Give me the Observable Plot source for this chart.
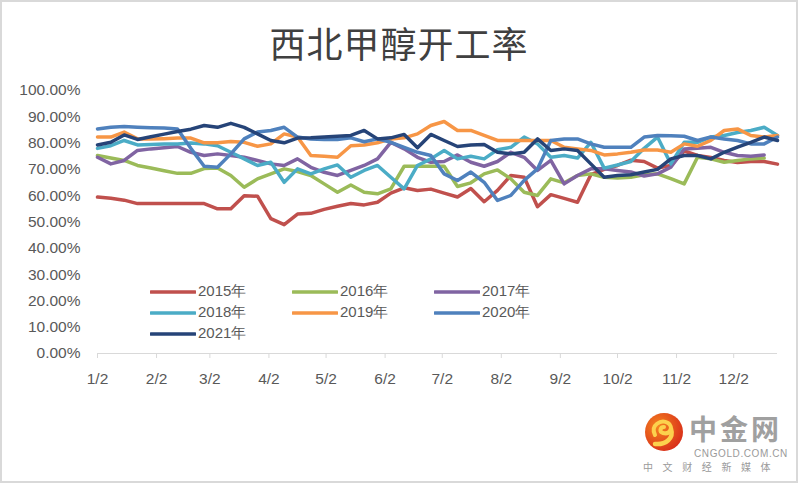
<!DOCTYPE html>
<html>
<head>
<meta charset="utf-8">
<script src="https://cdn.jsdelivr.net/npm/d3@7"></script>
<script src="https://cdn.jsdelivr.net/npm/@observablehq/plot@0.6"></script>
<style>
  html, body { margin: 0; padding: 0; background: #fff; }
  #wrap { position: relative; width: 798px; height: 483px; overflow: hidden; background: #fff; font-family: "Liberation Sans", Arial, sans-serif; }
  #title { height: 80px; text-align: center; font-family: "Noto Sans CJK SC", sans-serif; font-size: 36px; line-height: 84px; color: #404040; letter-spacing: 1px; }
  #legend { position: absolute; left: 150px; top: 281px; display: grid; grid-template-columns: 142px 142px 142px; grid-auto-rows: 21px; font-size: 15px; color: #595959; }
  #legend .item { display: flex; align-items: center; white-space: nowrap; }
  #legend svg { margin-right: 2px; }
  #border { position: absolute; inset: 0; border: 2px solid #d9d9d9; pointer-events: none; }
  .wm { position: absolute; color: #9a9a9a; white-space: nowrap; }
</style>
</head>
<body>
<div id="wrap">
  <div id="title">西北甲醇开工率</div>
  <div id="chart"></div>
  <div id="legend"></div>
  <svg class="wm" style="left:644px;top:412px" width="40" height="40" viewBox="-20 -20 40 40">
    <defs>
      <radialGradient id="lg" cx="35%" cy="35%" r="70%">
        <stop offset="0" stop-color="#f5841f"/>
        <stop offset="1" stop-color="#d9301a"/>
      </radialGradient>
    </defs>
    <circle r="19" fill="url(#lg)"/>
    <path d="M-9 3 C-14 -7 -3 -13 4 -9 C10 -5 6 3 -1 1 C-5 0 -4 -5 0 -5" fill="none" stroke="#fcd14d" stroke-width="4" stroke-linecap="round"/>
    <path d="M7 -3 C10 6 2 13 -9 12" fill="none" stroke="#fcd14d" stroke-width="4.5" stroke-linecap="round"/>
  </svg>
  <div class="wm" style="left:689px;top:414px;font-family:'Noto Sans CJK SC',sans-serif;font-weight:700;font-size:28px;line-height:28px;letter-spacing:3px;color:#a0a0a0;">中金网</div>
  <div class="wm" style="left:694px;top:449px;font-size:10px;letter-spacing:0.6px;line-height:10px;">CNGOLD.COM.CN</div>
  <div class="wm" style="left:643px;top:461px;font-family:'Noto Sans CJK SC',sans-serif;font-size:10px;letter-spacing:9.6px;line-height:12px;">中文财经新媒体</div>
  <div id="border"></div>
</div>
<script>
// weekly dates (month-day), shared across years
const weeks = ["01-02","01-09","01-16","01-23","01-30","02-06","02-13","02-20","02-27","03-06","03-13","03-20","03-27","04-03","04-10","04-17","04-24","05-01","05-08","05-15","05-22","05-29","06-05","06-12","06-19","06-26","07-03","07-10","07-17","07-24","07-31","08-07","08-14","08-21","08-28","09-04","09-11","09-18","09-25","10-02","10-09","10-16","10-23","10-30","11-06","11-13","11-20","11-27","12-04","12-11","12-18","12-25"];

const years = ["2015年","2016年","2017年","2018年","2019年","2020年","2021年"];
const colors = ["#C0504D","#9BBB59","#8064A2","#4BACC6","#F79646","#4F81BD","#264478"];

// operating rate (%) per week
const y2015 = [59.5,59,58.3,57,57,57,57,57,57,55,55,60,59.8,51.3,49,53,53.3,54.8,56,57,56.5,57.5,61,63,62,62.5,61,59.5,62.7,57.7,62,67.7,67,55.8,60.4,59,57.5,68,70,71.5,73.5,73,70.5,71.5,77,75.3,74.5,73.4,72.6,73,73,72];
const y2016 = [75.3,74.3,73.4,71.5,70.5,69.5,68.5,68.5,70.3,70.5,67.7,63.2,66.4,68.3,70.2,69.2,67.7,64.5,61.3,64.1,61.3,60.7,62.6,71.2,71.2,71.2,71.2,63.5,64.9,68.3,69.8,66.4,61.3,60.1,66.4,64.9,67.7,68.3,67,66.7,67,68,68.3,66.5,64.5,74.6,74,72.7,73.4,74,74.3];
const y2017 = [74.6,72.1,73.4,77.2,77.8,78.2,78.7,76.5,75.3,75.9,75.3,74.6,73.4,72.1,71.5,74,70.8,68.9,67.7,69.6,71.5,74,80.3,77.8,74.6,72.7,73,75.5,72.7,71.2,73,76.5,74.6,69.6,73.4,64.5,67.7,70.2,70.2,69.6,69,67.5,68.3,70.8,77.8,78,78.4,76.5,75.3,75,75.5];
const y2018 = [78,79,81,79.3,79.5,79.7,79.7,80,79.7,79,76.5,74,71.5,72.7,65.1,70.2,68.3,70.2,71.7,67,69.6,71.5,67,62.6,71.5,74,77.2,74,75,74,77.5,78.4,82.3,79.7,74.6,75.3,74.3,80.3,70.5,71.7,73,78,82.3,72.1,80.3,80.3,82.3,82.9,84,84.8,86,82.9];
const y2019 = [82.3,82.3,84.2,81.6,81.6,81.7,81.9,81.9,80.1,80.1,80.6,80.3,78.8,79.7,83.5,82.3,75.3,75,74.6,79,79.3,80.1,81.6,82,83.5,86.7,88.2,84.8,84.8,82.9,81,81,81,81,81,78.4,77.8,77.2,75.5,75.9,76.5,77.4,77.4,76.5,79.7,78.8,81,84.8,85.4,82.9,82.3,82.9];
const y2020 = [85.4,86,86.3,86,85.8,85.7,85.4,78,71.2,70.8,75.9,81.6,84.2,84.8,86,82.3,81.6,81.4,81.4,82,80.5,81.6,80.3,78.4,76.5,75.3,68.3,65.8,69,65.1,58.2,60.1,65.8,70.2,81,81.6,81.6,79.7,78.4,78.4,78.4,82.3,82.9,82.8,82.6,81,82.3,81.6,81,79.7,79.7,82.3];
const y2021 = [79.3,80.3,83.1,81.4,82.4,83.4,84.4,85.3,86.7,86,87.5,86,83.5,81,80.1,81.9,82,82.3,82.6,82.9,84.8,81.6,82,83.3,78.2,83.3,81,78.7,79.3,79.5,76.5,75.9,76.5,81.6,77.2,77.8,77.2,72.1,67,67.7,68,69,70,74,75.3,75.3,74,76.5,78.5,80.3,82.3,81];

const xTickDates = ["01-02","02-02","03-02","04-02","05-02","06-02","07-02","08-02","09-02","10-02","11-02","12-02"];
const yTicks = [0,0.1,0.2,0.3,0.4,0.5,0.6,0.7,0.8,0.9,1];

const series = [y2015,y2016,y2017,y2018,y2019,y2020,y2021];
const toDate = md => new Date("2021-" + md + "T00:00:00Z");
const data = [];
series.forEach((vals, k) => vals.forEach((v, i) => data.push({date: toDate(weeks[i]), value: v / 100, year: years[k]})));

const fmtX = d => `${d.getUTCMonth() + 1}/${d.getUTCDate()}`;

const chart = Plot.plot({
  width: 798,
  height: 403,
  marginLeft: 97,
  marginRight: 21,
  marginTop: 10,
  marginBottom: 130,
  style: {fontFamily: "'Liberation Sans', Arial, sans-serif", fontSize: "15.5px", color: "#595959", background: "transparent", overflow: "visible"},
  x: {type: "utc", domain: [toDate(weeks[0]), toDate(weeks[weeks.length - 1])]},
  y: {domain: [0, 1]},
  color: {domain: years, range: colors},
  marks: [
    Plot.ruleY([0], {stroke: "#d9d9d9", strokeWidth: 1}),
    Plot.axisY({ticks: yTicks, tickFormat: d3.format(".2%"), tickSize: 0, tickPadding: 17, label: null, fill: "#595959"}),
    Plot.axisX({ticks: xTickDates.map(toDate), tickFormat: fmtX, tickSize: 5, tickPadding: 14, label: null, stroke: "#d9d9d9", fill: "#595959"}),
    Plot.line(data, {x: "date", y: "value", z: "year", stroke: "year", strokeWidth: 3.5, strokeLinejoin: "round", strokeLinecap: "round"})
  ]
});
document.getElementById("chart").appendChild(chart);

// legend
const legend = document.getElementById("legend");
years.forEach((yr, k) => {
  const item = document.createElement("div");
  item.className = "item";
  item.innerHTML = `<svg width="46" height="10"><line x1="1" x2="45" y1="5" y2="5" stroke="${colors[k]}" stroke-width="3.5" stroke-linecap="round"/></svg><span>${yr}</span>`;
  legend.appendChild(item);
});
</script>
</body>
</html>
